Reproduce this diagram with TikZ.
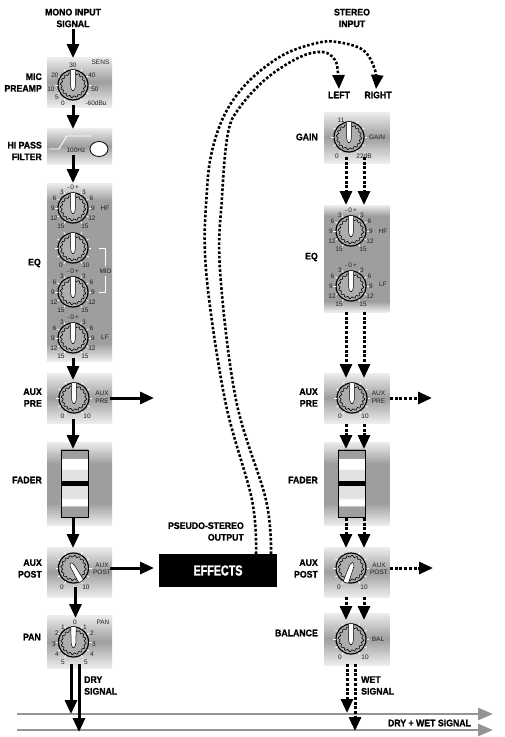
\documentclass[tikz,border=0pt]{standalone}
\usepackage{fontspec}
\usetikzlibrary{arrows.meta, positioning, shapes.geometric}
\newfontfamily\labelfont[FakeStretch=0.92,FakeBold=1.1]{Liberation Sans Bold}
\newfontfamily\boxfont[FakeStretch=0.74,FakeBold=1.1]{Liberation Sans Bold}
\newfontfamily\dialfont{Liberation Sans}

\definecolor{panelgrey}{gray}{0.62}
\definecolor{panellight}{gray}{0.93}
\definecolor{busgrey}{gray}{0.58}
\definecolor{dialink}{gray}{0.12}

\pgfdeclareverticalshading{shortshade}{100bp}{color(0bp)=(panellight); color(25bp)=(panellight); color(50bp)=(panelgrey); color(75bp)=(panellight); color(100bp)=(panellight)}
\pgfdeclareverticalshading{tallshade}{100bp}{color(0bp)=(panellight); color(25bp)=(panellight); color(30bp)=(panelgrey); color(70bp)=(panelgrey); color(75bp)=(panellight); color(100bp)=(panellight)}
\pgfdeclareverticalshading{fadershade}{100bp}{color(0bp)=(panellight); color(25bp)=(panellight); color(38bp)=(panelgrey); color(62bp)=(panelgrey); color(75bp)=(panellight); color(100bp)=(panellight)}
\pgfdeclareverticalshading{faderface}{100bp}{color(0bp)=(panelgrey); color(33bp)=(panelgrey); color(33.5bp)=(white); color(38bp)=(white); color(39.5bp)=(panellight!95!black); color(60bp)=(panellight!95!black); color(61bp)=(white); color(68.5bp)=(white); color(69bp)=(panelgrey); color(100bp)=(panelgrey)}

\tikzset{
    x=1pt, y=-1pt,
    panel/.style={shade, shading=shortshade, minimum width=65pt, minimum height=50pt, inner sep=0pt},
    knob/.style={draw=black, line width=1.2pt, fill=panelgrey!85!white, circle, minimum size=30pt, inner sep=0pt},
    gear/.style={draw=black, line width=0.6pt},
    pointer/.style={draw=black, line width=0.5pt, fill=white, rounded corners=1pt},
    whitetick/.style={draw=white, line width=0.8pt},
    lab/.style={font=\labelfont\fontsize{9.5}{11.7}\selectfont, align=right, anchor=east, inner sep=0pt, text=black},
    midlab/.style={lab, align=center, anchor=center},
    leftlab/.style={lab, align=left, anchor=west},
    tick/.style={font=\dialfont\fontsize{6.5}{7.5}\selectfont, inner sep=0pt, text=dialink},
    sig/.style={line width=3pt, draw=black, -{Triangle[length=14pt,width=12pt]}},
    sigdash/.style={sig, dash pattern=on 3pt off 1.7pt},
    curvedash/.style={sig, line width=2.6pt, dash pattern=on 2.6pt off 1.9pt},
    bus/.style={line width=2.5pt, draw=busgrey, -{Triangle[length=15pt,width=12pt]}}
}

% knob: name, x, y, pointer rotation
\newcommand{\dial}[4]{
    \node[knob] (#1) at (#2,#3) {};
    \foreach \a in {-60,-30,0,30,60,120,150,180,210,240}
        \draw[whitetick, shift={(#2,#3)}] (\a:15.5) -- (\a:18);
    \draw[gear, shift={(#2,#3)}] plot[domain=0:360, samples=97] (\x:{11.8+0.9*sin(16*\x)}) -- cycle;
    \draw[pointer, shift={(#2,#3)}, rotate=#4] (-2.8,-15.5) -- (2.8,-15.5) -- (2.2,3) -- (0,6.5) -- (-2.2,3) -- cycle;
}
% EQ numbers round a knob
\newcommand{\eqscale}[3]{
    \foreach \dx/\dy/\txt [count=\i] in {0/-20.5/{-\,0\,+}, -11/-16/3, 11/-16/3, -18.5/-10/6, 18.5/-10/6, -20/0/9, 20/0/9, -19/10/12, 19/10/12, -12/18/15, 12/18/15}
        \node[tick] (#1n\i) at (#2+\dx,#3+\dy) {\txt};
}
% fader strip: name, x of the left edge
\newcommand{\faderstrip}[2]{
    \node[draw=black, line width=0.9pt, shade, shading=faderface, minimum width=27pt, minimum height=67pt, inner sep=0pt, anchor=north west] (#1) at (#2,449.5) {};
    \node[fill=black, minimum width=27pt, minimum height=5.5pt, inner sep=0pt] (#1bar) at (#1.center) {};
}

\begin{document}
\begin{tikzpicture}
    \useasboundingbox[fill=white] (0,0) rectangle (505,737);

    % panels
    \node[panel] (micpanel) at (79.5,82) {};
    \node[panel, minimum height=36pt] (hipasspanel) at (79.5,146) {};
    \node[panel, shading=tallshade, minimum height=178pt] (eqpanel) at (79.5,272) {};
    \node[panel] (auxprepanel) at (79.5,398) {};
    \node[panel, shading=fadershade, minimum height=83pt] (faderpanel) at (79.5,483.5) {};
    \node[panel] (auxpostpanel) at (79.5,572) {};
    \node[panel, minimum height=53pt] (panpanel) at (79.5,641.5) {};
    \node[panel, minimum height=51pt] (gainpanel) at (357,137.5) {};
    \node[panel, shading=tallshade, minimum height=107pt] (steqpanel) at (357,258.5) {};
    \node[panel] (staprepanel) at (357,398) {};
    \node[panel, shading=fadershade, minimum height=83pt] (stfaderpanel) at (357,483.5) {};
    \node[panel] (stapostpanel) at (357,572) {};
    \node[panel, minimum height=52pt] (balpanel) at (357,639) {};

    % mono channel
    \dial{mic}{73}{85}{0}
    \foreach \dx/\dy/\txt [count=\i] in {0/-20/30, -18/-10/20, 19/-10/40, -22/4/10, 22/4/50, -16/12/5, -10/18/0}
        \node[tick] (micn\i) at (73+\dx,85+\dy) {\txt};
    \node[tick] (micsens) at (100.5,62) {SENS};
    \node[tick] (micdb) at (96,103) {-60dBu};
    \node[tick] (hipasshz) at (76,150) {100Hz};
    \draw[white, line width=0.9pt] (hipasspanel.west) ++(2,3) coordinate (hpa) -- ++(10,0) -- ++(8,-13) -- ++(25,0) coordinate (hpb);
    \node[draw=black, line width=0.8pt, fill=white, ellipse, minimum width=18pt, minimum height=15pt, inner sep=0pt] (hipassled) at (99,149) {};

    \dial{hf}{73}{208}{0}
    \eqscale{hf}{73}{208}
    \node[tick] (hflab) at (105,208) {HF};
    \dial{mida}{73}{248}{0}
    \node[tick] (midan1) at (61,265.5) {0};
    \node[tick] (midan2) at (86,265.5) {10};
    \dial{midb}{73}{292}{0}
    \eqscale{midb}{73}{292}
    \node[tick] (midlab) at (105.5,271) {MID};
    \draw[white, line width=0.9pt] (99,248) -- (105,248) -- (105,266);
    \draw[white, line width=0.9pt] (105,276) -- (105,292) -- (99,292);
    \dial{lf}{73}{338}{0}
    \eqscale{lf}{73}{338}
    \node[tick] (lflab) at (105,337) {LF};

    \dial{auxpre}{74}{398}{0}
    \node[tick] (auxpren1) at (62.5,416) {0};
    \node[tick] (auxpren2) at (87,416) {10};
    \node[tick, align=center] (auxprelab) at (102,397.5) {AUX\\PRE};
    \faderstrip{fader}{60.5}
    \dial{auxpost}{73.5}{568}{-150}
    \node[tick] (auxpostn1) at (62,587) {0};
    \node[tick] (auxpostn2) at (86,587) {10};
    \node[tick, align=center] (auxpostlab) at (102,569) {AUX\\POST};
    \dial{pan}{73.5}{642}{0}
    \foreach \dx/\dy/\txt [count=\i] in {1.5/-20/0, -10.5/-15/1, 11.5/-15/1, -16.5/-9/2, 18.5/-9/2, -19.5/2/3, 20.5/2/3, -16.5/12/4, 18.5/12/4, -10.5/20/5, 12.5/20/5}
        \node[tick] (pann\i) at (73.5+\dx,642+\dy) {\txt};
    \node[tick] (panlab) at (103,622) {PAN};

    % stereo channel
    \dial{gain}{349}{137}{0}
    \node[tick] (gainn1) at (341,120) {11};
    \node[tick] (gainn2) at (337,156) {0};
    \node[tick] (gainn3) at (364,156) {22dB};
    \node[tick] (gainlab) at (377,137) {GAIN};
    \dial{sthf}{351}{231}{0}
    \eqscale{sthf}{351}{231}
    \node[tick] (sthflab) at (383,231) {HF};
    \dial{stlf}{351}{286}{0}
    \eqscale{stlf}{351}{286}
    \node[tick] (stlflab) at (383,284) {LF};
    \dial{stapre}{352}{398}{0}
    \node[tick] (stapren1) at (340,416) {0};
    \node[tick] (stapren2) at (365,416) {10};
    \node[tick, align=center] (staprelab) at (378.5,397.5) {AUX\\PRE};
    \faderstrip{stfader}{338}
    \dial{stapost}{351}{568}{160}
    \node[tick] (stapostn1) at (339,587) {0};
    \node[tick] (stapostn2) at (364,587) {10};
    \node[tick, align=center] (stapostlab) at (379,569) {AUX\\POST};
    \dial{bal}{351}{639}{0}
    \node[tick] (baln1) at (340,657) {0};
    \node[tick] (baln2) at (365,657) {10};
    \node[tick] (ballab) at (378,639) {BAL};

    % effects
    \node[fill=black, text=white, minimum width=118pt, minimum height=33pt, inner sep=0pt, font=\boxfont\fontsize{14.5}{16}\selectfont] (effects) at (218,570.5) {EFFECTS};
    \node[lab] (pseudolab) at (244,531.5) {PSEUDO-STEREO\\OUTPUT};

    % labels
    \node[midlab] (monolab) at (73,18) {MONO INPUT\\SIGNAL};
    \node[midlab] (stereolab) at (352,18) {STEREO\\INPUT};
    \node[midlab] (leftlab) at (339,95) {LEFT};
    \node[midlab] (rightlab) at (378,95) {RIGHT};
    \node[lab] (miclab) at (42,82.5) {MIC\\PREAMP};
    \node[lab] (hipasslab) at (42,151) {HI PASS\\FILTER};
    \node[lab] (eqlab) at (41,263) {EQ};
    \node[lab] (auxprename) at (42,397.5) {AUX\\PRE};
    \node[lab] (fadername) at (42,480) {FADER};
    \node[lab] (auxpostname) at (42,568.5) {AUX\\POST};
    \node[lab] (panname) at (41,637) {PAN};
    \node[lab] (gainname) at (318,137) {GAIN};
    \node[lab] (steqname) at (318,257) {EQ};
    \node[lab] (stapname) at (318,397.5) {AUX\\PRE};
    \node[lab] (stfname) at (318,480) {FADER};
    \node[lab] (stpname) at (318,568.5) {AUX\\POST};
    \node[lab] (balname) at (318,633) {BALANCE};
    \node[leftlab] (drylab) at (84,685.5) {DRY\\SIGNAL};
    \node[leftlab] (wetlab) at (361,685.5) {WET\\SIGNAL};
    \node[midlab] (drywetlab) at (429.5,723) {DRY + WET SIGNAL};

    % signal points
    \coordinate (busaa) at (17,714);
    \coordinate (busab) at (493,714);
    \coordinate (busba) at (17,730);
    \coordinate (busbb) at (493,730);
    \coordinate (fxleft) at (256,554);
    \coordinate (fxright) at (271,554);
    \coordinate (inleft) at (339,89);
    \coordinate (inright) at (376,89);

    % busses
    \draw[bus] (busaa) -- (busab);
    \draw[bus] (busba) -- (busbb);

    % mono signal
    \draw[sig] (73,29) -- (73,58);
    \draw[sig] (73,105) -- (73,129);
    \draw[sig] (73,155) -- (73,183);
    \draw[sig] (73,358) -- (73,380);
    \draw[sig] (73,419) -- (73,449);
    \draw[sig] (73,518) -- (73,548);
    \draw[sig] (75.5,587) -- (75.5,618);
    \draw[sig] (110,398) -- (154,398);
    \draw[sig] (110,568) -- (154,568);
    \draw[sig] (71,664) -- (71,714);
    \draw[sig] (79,664) -- (79,732);

    % stereo signal
    \draw[curvedash] plot[smooth, tension=0.6] coordinates {(fxleft) (252,500) (225,400) (206,270) (207,190) (213,147) (227,110) (250,80) (283,55) (317,43) (337,42) (363,50) (375,70) (inright)};
    \draw[curvedash] plot[smooth, tension=0.6] coordinates {(fxright) (266,500) (236,400) (220,270) (222,197) (228,133) (240,107) (267,78) (300,57) (323,52) (335,60) (338,73) (inleft)};
    \foreach \x in {346,364} {
        \draw[sigdash] (\x,157) -- (\x,205);
        \draw[sigdash] (\x,312) -- (\x,378);
        \draw[sigdash] (\x,424) -- (\x,449);
        \draw[sigdash] (\x,518) -- (\x,548);
        \draw[sigdash] (\x,597) -- (\x,620);
    }
    \draw[sigdash] (390,398) -- (432,398);
    \draw[sigdash] (390,568) -- (433,568);
    \draw[sigdash] (347,664) -- (347,713);
    \draw[sigdash] (355,664) -- (355,731);
\end{tikzpicture}
\end{document}
